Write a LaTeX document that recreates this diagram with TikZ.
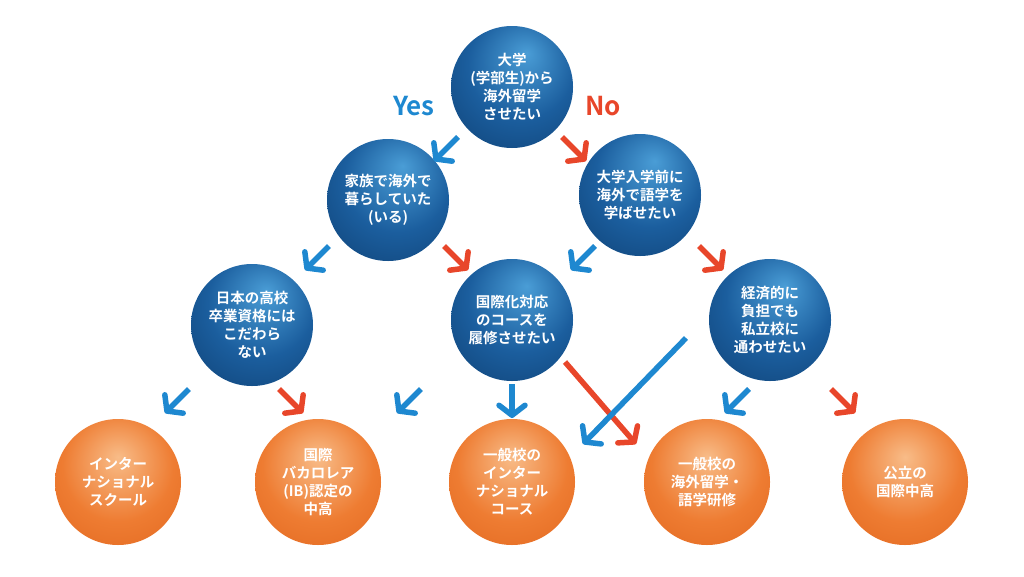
\documentclass[tikz,border=0pt]{standalone}
\usepackage{fontspec}
\setmainfont{Noto Sans CJK JP}[BoldFont={Noto Sans CJK JP Bold}]
\usetikzlibrary{arrows.meta}
\definecolor{bA}{HTML}{4A9DD6}
\definecolor{bB}{HTML}{1B5E9E}
\definecolor{bC}{HTML}{0B3868}
\definecolor{oA}{HTML}{F8BC88}
\definecolor{oB}{HTML}{EE7C32}
\definecolor{oC}{HTML}{DC5E16}
\definecolor{ablue}{HTML}{1E88D0}
\definecolor{ared}{HTML}{E8462A}
\pgfdeclareradialshading{bluesh}{\pgfpoint{6bp}{14bp}}{color(0bp)=(bA); color(22bp)=(bB); color(48bp)=(bC); color(60bp)=(bC)}
\pgfdeclareradialshading{orsh}{\pgfpoint{0bp}{10bp}}{color(0bp)=(oA); color(22bp)=(oB); color(48bp)=(oC); color(60bp)=(oC)}
\tikzset{
 q/.style={circle,minimum size=122pt,inner sep=0pt,text=white,font=\bfseries\fontsize{14.5}{18}\selectfont,align=center,shading=bluesh},
 a/.style={circle,minimum size=126pt,inner sep=0pt,text=white,font=\bfseries\fontsize{14.5}{18}\selectfont,align=center,shading=orsh},
 ar/.style={line width=5.5pt,-{Straight Barb[length=10pt,width=26pt,line width=5.5pt,round=false]},line join=miter},
 yb/.style={ar,draw=ablue},
 nr/.style={ar,draw=ared},
}
\begin{document}
\begin{tikzpicture}[x=1pt,y=-1pt]
\useasboundingbox (0,0) rectangle (1024,576);
\node[q] (t) at (512,87) {大学\\(学部生)から\\海外留学\\させたい};
\node[q] (l) at (388,200) {家族で海外で\\暮らしていた\\(いる)};
\node[q] (r) at (640,195) {大学入学前に\\海外で語学を\\学ばせたい};
\node[q] (ll) at (252,325) {日本の高校\\卒業資格には\\こだわら\\ない};
\node[q] (m) at (512,320) {国際化対応\\のコースを\\履修させたい};
\node[q] (rr) at (770,320) {経済的に\\負担でも\\私立校に\\通わせたい};
\node[a] (b1) at (118,482) {インター\\ナショナル\\スクール};
\node[a] (b2) at (318,482) {国際\\バカロレア\\(IB)認定の\\中高};
\node[a] (b3) at (512,482) {一般校の\\インター\\ナショナル\\コース};
\node[a] (b4) at (707,482) {一般校の\\海外留学・\\語学研修};
\node[a] (b5) at (905,482) {公立の\\国際中高};
\node[text=ablue,font=\bfseries\fontsize{26}{26}\selectfont] (yes) at (414,106) {Yes};
\node[text=ared,font=\bfseries\fontsize{26}{26}\selectfont] (no) at (603,106) {No};
\foreach \x/\y/\n in {447/148/1,318/257/2,584/257/3,178/400/4,410/400/5,738/400/6}{
 \coordinate (s\n) at (\x+11,\y-11); \coordinate (e\n) at (\x-13,\y+13);
 \draw[yb] (s\n) -- (e\n);}
\foreach \x/\y/\n in {573/148/1,455/257/2,710/257/3,290/400/4,842/400/5}{
 \coordinate (rs\n) at (\x-11,\y-11); \coordinate (re\n) at (\x+13,\y+13);
 \draw[nr] (rs\n) -- (re\n);}
\coordinate (ds) at (512,384); \coordinate (de) at (512,418);
\draw[yb] (ds) -- (de);
\coordinate (ls) at (565,362); \coordinate (le) at (636,444);
\draw[nr] (ls) -- (le);
\coordinate (bs) at (686,338); \coordinate (be) at (583,444);
\draw[yb] (bs) -- (be);
\end{tikzpicture}
\end{document}
